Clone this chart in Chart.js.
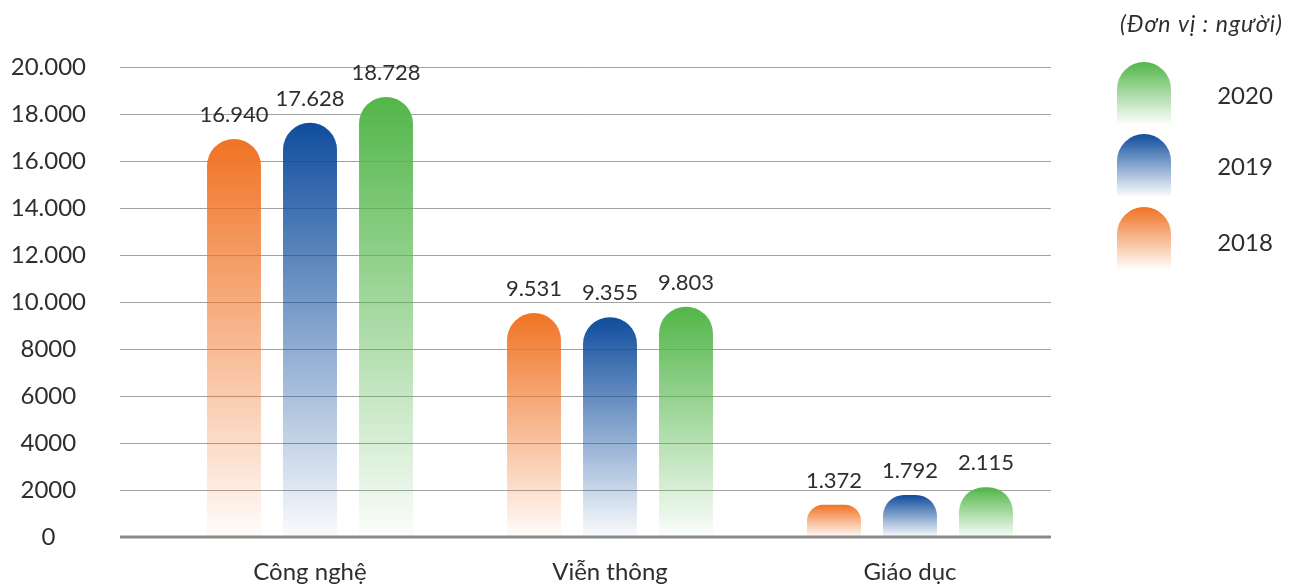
<!DOCTYPE html>
<html>
<head>
<meta charset="utf-8">
<script src="https://cdn.jsdelivr.net/npm/chart.js@4.4.1/dist/chart.umd.min.js"></script>
<style>
  html, body { margin: 0; padding: 0; background: #fff; overflow: hidden; }
  canvas { display: block; }
</style>
</head>
<body>
<canvas id="chart" width="1293" height="585"></canvas>
<script>
const categories = ["Công nghệ", "Viễn thông", "Giáo dục"];
const years = ["2018", "2019", "2020"];
const values2018 = [16940, 9531, 1372];
const values2019 = [17628, 9355, 1792];
const values2020 = [18728, 9803, 2115];
const yTickLabels = ["0", "2000", "4000", "6000", "8000", "10.000", "12.000", "14.000", "16.000", "18.000", "20.000"];
const unitNote = "(Đơn vị : người)";

const colors = ["#f07324", "#0f4d9d", "#52b649"];
const FONT = "Lato";
const TEXT = "#2e2e2e";

function withAlpha(hex, a) {
    const n = parseInt(hex.slice(1), 16);
    return `rgba(${n >> 16}, ${(n >> 8) & 255}, ${n & 255}, ${a})`;
}

function fmt(v) {
    return String(v).replace(/\B(?=(\d{3})+(?!\d))/g, ".");
}

// each bar fades from its colour at the top to almost white at the base
function barFill(color) {
    return (ctx) => {
        const chart = ctx.chart;
        if (!chart.chartArea || ctx.type !== "data") return color;
        const y = chart.scales.y;
        const top = y.getPixelForValue(ctx.raw);
        const bottom = y.getPixelForValue(0);
        const g = chart.ctx.createLinearGradient(0, top, 0, bottom);
        g.addColorStop(0, color);
        g.addColorStop(1, withAlpha(color, 0.02));
        return g;
    };
}

const gridLines = {
    id: "gridLines",
    beforeDatasetsDraw(chart) {
        const { ctx, scales } = chart;
        ctx.save();
        ctx.strokeStyle = "#a2a2a2";
        ctx.lineWidth = 1;
        scales.y.ticks.forEach((t) => {
            if (t.value === 0) return;
            const y = Math.round(scales.y.getPixelForValue(t.value)) + 0.5;
            ctx.beginPath();
            ctx.moveTo(120, y);
            ctx.lineTo(1051, y);
            ctx.stroke();
        });
        ctx.restore();
    },
    afterDatasetsDraw(chart) {
        const { ctx, scales } = chart;
        const y0 = scales.y.getPixelForValue(0);
        ctx.save();
        ctx.strokeStyle = "#8a8a8a";
        ctx.lineWidth = 3;
        ctx.beginPath();
        ctx.moveTo(120, y0);
        ctx.lineTo(1051, y0);
        ctx.stroke();

        // value labels above the bars
        ctx.fillStyle = TEXT;
        ctx.font = `22px ${FONT}`;
        ctx.textAlign = "center";
        ctx.textBaseline = "middle";
        chart.data.datasets.forEach((ds, i) => {
            chart.getDatasetMeta(i).data.forEach((bar, j) => {
                ctx.fillText(fmt(ds.data[j]), bar.x, bar.y - 24);
            });
        });
        ctx.restore();
    },
    afterDraw(chart) {
        const { ctx } = chart;
        ctx.save();
        ctx.fillStyle = TEXT;
        ctx.font = `italic 23px ${FONT}`;
        ctx.letterSpacing = "1px";
        ctx.textAlign = "right";
        ctx.textBaseline = "middle";
        ctx.fillText(unitNote, 1283, 25);
        ctx.letterSpacing = "0px";

        // legend, newest year on top
        const tops = [62, 134, 207];
        const labelY = [96, 167, 243];
        const w = 54, h = 62, x = 1117;
        chart.data.datasets.slice().reverse().forEach((ds, k) => {
            const top = tops[k];
            const g = ctx.createLinearGradient(0, top, 0, top + h);
            g.addColorStop(0, ds.baseColor);
            g.addColorStop(1, withAlpha(ds.baseColor, 0.02));
            ctx.fillStyle = g;
            ctx.beginPath();
            ctx.moveTo(x, top + h);
            ctx.lineTo(x, top + w / 2);
            ctx.arc(x + w / 2, top + w / 2, w / 2, Math.PI, 0);
            ctx.lineTo(x + w, top + h);
            ctx.closePath();
            ctx.fill();
            ctx.fillStyle = TEXT;
            ctx.font = `24px ${FONT}`;
            ctx.textAlign = "center";
            ctx.fillText(ds.label, 1245, labelY[k]);
        });
        ctx.restore();
    },
};

const series = [values2018, values2019, values2020];

new Chart(document.getElementById("chart"), {
    type: "bar",
    data: {
        labels: categories,
        datasets: series.map((vals, i) => ({
            label: years[i],
            data: vals,
            baseColor: colors[i],
            backgroundColor: barFill(colors[i]),
            borderWidth: 0,
            borderRadius: { topLeft: 27, topRight: 27 },
            borderSkipped: "bottom",
            barPercentage: 0.71,
            categoryPercentage: 0.76,
        })),
    },
    options: {
        responsive: false,
        animation: false,
        devicePixelRatio: 1,
        layout: { padding: { top: 67, right: 233, left: 0, bottom: 0 } },
        plugins: {
            legend: { display: false },
            tooltip: { enabled: false },
        },
        scales: {
            x: {
                grid: { display: false },
                border: { display: false },
                ticks: { color: TEXT, font: { family: FONT, size: 24 }, padding: 13 },
                afterFit: (s) => { s.height = 48; },
            },
            y: {
                min: 0,
                max: 20000,
                grid: { display: false },
                border: { display: false },
                ticks: {
                    stepSize: 2000,
                    color: TEXT,
                    font: { family: FONT, size: 24 },
                    crossAlign: "center",
                    padding: 66,
                    callback: (v, i) => yTickLabels[i],
                },
                afterFit: (s) => {
                    s.width = 160;
                    s.paddingTop = 0;
                    s.paddingBottom = 0;
                },
            },
        },
    },
    plugins: [gridLines],
});
</script>
</body>
</html>
